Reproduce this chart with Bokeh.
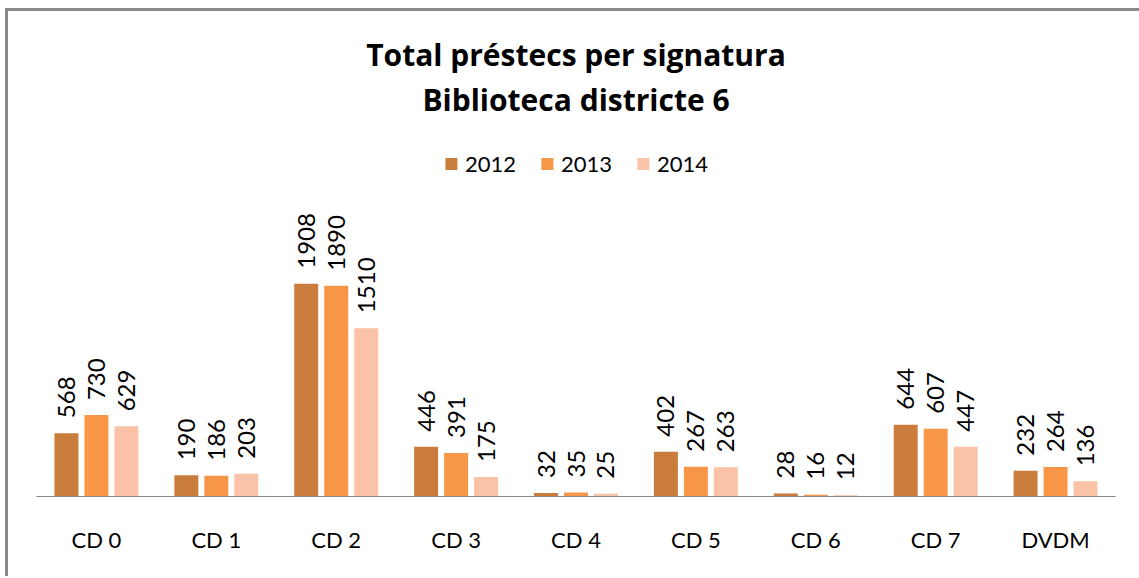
from math import pi
from bokeh.plotting import figure
from bokeh.models import ColumnDataSource, FactorRange, Range1d, Label, Legend, LegendItem
from bokeh.transform import dodge
from bokeh.core.properties import value
from bokeh.embed import file_html
from bokeh.resources import INLINE

categories = ["CD 0", "CD 1", "CD 2", "CD 3", "CD 4", "CD 5", "CD 6", "CD 7", "DVDM"]
years = ["2012", "2013", "2014"]
v2012 = [568, 190, 1908, 446, 32, 402, 28, 644, 232]
v2013 = [730, 186, 1890, 391, 35, 267, 16, 607, 264]
v2014 = [629, 203, 1510, 175, 25, 263, 12, 447, 136]
title_lines = ["Total préstecs per signatura", "Biblioteca districte 6"]

colors = ["#C97C3C", "#F79646", "#FAC2A6"]
FONT = "Lato"
TITLE_FONT = "Open Sans"
BORDER = "#898989"

W, H = 1134, 568
LEFT, RIGHT, BOTTOM = 31, 24, 80
FRAME_H = H - BOTTOM
PX_PER_UNIT = 0.1115
y_end = FRAME_H / PX_PER_UNIT

def y_at(canvas_px):
    return (FRAME_H - canvas_px) / PX_PER_UNIT

series = [v2012, v2013, v2014]
data = {"cat": categories}
for yr, vals in zip(years, series):
    data["v" + yr] = vals
    data["t" + yr] = [str(v) for v in vals]
src = ColumnDataSource(data)

p = figure(width=W, height=H,
           x_range=FactorRange(factors=categories, range_padding=0),
           y_range=Range1d(0, y_end),
           output_backend="svg", toolbar_location=None,
           y_axis_location=None,
           min_border_left=LEFT, min_border_right=RIGHT,
           min_border_top=0, min_border_bottom=BOTTOM)
# outer chart border (only its left and top edges fall inside the window)
p.styles = {
    "margin-left": "5px", "margin-top": "8px",
    "background": (f"linear-gradient({BORDER}, {BORDER}) 0 0 / 3px 100% no-repeat, "
                   f"linear-gradient({BORDER}, {BORDER}) 0 0 / 100% 3px no-repeat, #ffffff"),
}
p.outline_line_color = None
p.grid.visible = False
p.background_fill_color = None
p.border_fill_color = None

ax = p.xaxis[0]
ax.axis_line_color = "#868686"
ax.axis_line_width = 1
ax.major_tick_line_color = None
ax.minor_tick_line_color = None
ax.major_label_standoff = 23
ax.major_label_text_font = FONT
ax.major_label_text_font_size = "22px"
ax.major_label_text_color = "#000000"

items = []
for i, (yr, c) in enumerate(zip(years, colors)):
    off = (i - 1) * 0.25
    r = p.vbar(x=dodge("cat", off, range=p.x_range), top="v" + yr, width=0.2,
               source=src, fill_color=c, line_color=None)
    p.text(x=dodge("cat", off, range=p.x_range), y="v" + yr, text="t" + yr,
           angle=pi / 2, text_align="left", text_baseline="middle",
           y_offset=-15, text_font=value(FONT), text_font_size="24px",
           text_color="#000000", source=src)
    items.append(LegendItem(label=yr, renderers=[r]))

legend = Legend(items=items, orientation="horizontal", location="top_center",
                glyph_width=15, glyph_height=15, label_standoff=7, spacing=23,
                padding=0, margin=142, border_line_color=None,
                background_fill_alpha=0,
                label_text_font=FONT, label_text_font_size="22px",
                label_text_color="#000000")
p.add_layout(legend)

for txt, base in zip(title_lines, [45.5, 91]):
    p.add_layout(Label(x=4.5, y=y_at(base), x_units="data", y_units="data",
                       text=txt, text_align="center", text_baseline="alphabetic",
                       text_font=TITLE_FONT, text_font_style="bold", text_font_size="30px",
                       text_color="#000000"))

open("out.html", "w").write(file_html(p, INLINE))
